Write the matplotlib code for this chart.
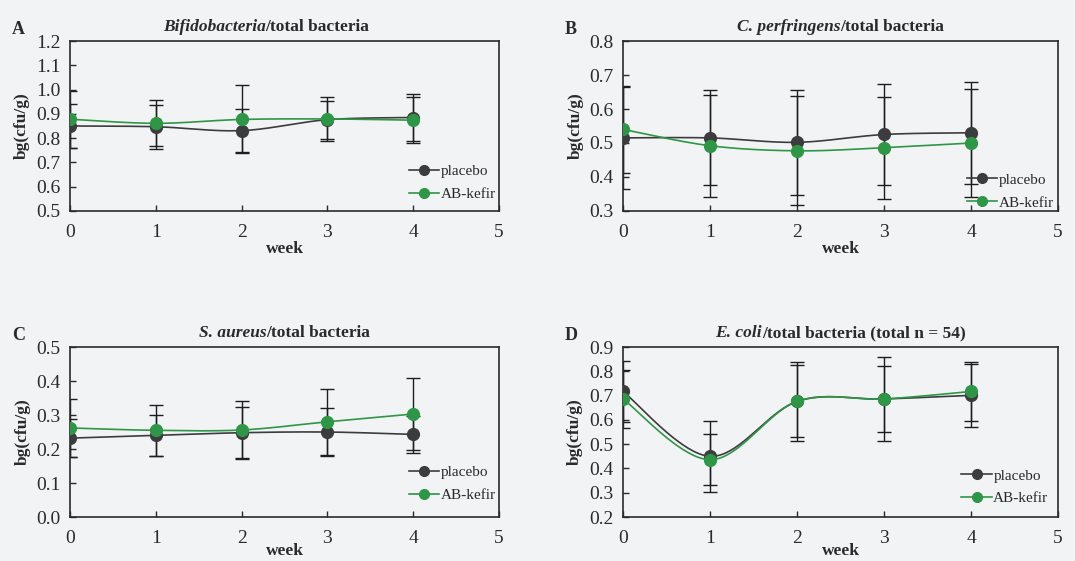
import numpy as np
import matplotlib
matplotlib.use('Agg')
import matplotlib.pyplot as plt
from matplotlib.offsetbox import TextArea, HPacker, AnchoredOffsetbox
from matplotlib.ticker import FormatStrFormatter

plt.rcParams['font.family'] = ['Liberation Serif', 'DejaVu Serif']

### DATA
weeks = [0, 1, 2, 3, 4]

# A - Bifidobacteria
bifi_placebo = [0.850, 0.847, 0.831, 0.876, 0.885]
bifi_kefir = [0.878, 0.861, 0.877, 0.879, 0.874]
bifi_placebo_sd = [0.090, 0.090, 0.090, 0.078, 0.096]
bifi_kefir_sd = [0.117, 0.095, 0.140, 0.090, 0.094]

# B - C. perfringens
perf_placebo = [0.515, 0.515, 0.502, 0.525, 0.530]
perf_kefir = [0.540, 0.492, 0.477, 0.486, 0.500]
perf_placebo_sd = [0.150, 0.140, 0.155, 0.150, 0.150]
perf_kefir_sd = [0.128, 0.150, 0.160, 0.150, 0.160]

# C - S. aureus
aur_placebo = [0.232, 0.240, 0.248, 0.250, 0.243]
aur_kefir = [0.262, 0.255, 0.256, 0.280, 0.303]
aur_placebo_sd = [0.055, 0.060, 0.075, 0.070, 0.055]
aur_kefir_sd = [0.085, 0.075, 0.085, 0.098, 0.106]

# D - E. coli
coli_placebo = [0.717, 0.450, 0.676, 0.686, 0.701]
coli_kefir = [0.686, 0.436, 0.676, 0.686, 0.717]
coli_placebo_sd = [0.124, 0.145, 0.162, 0.173, 0.130]
coli_kefir_sd = [0.120, 0.105, 0.148, 0.137, 0.120]

labels = ['placebo', 'AB-kefir']

### STYLE
BG = '#f2f3f5'
DARK = '#3c3c3e'
GREEN = '#2e9646'
TXT = '#2a2a2a'


### Excel-like smoothed line (Bezier through the points)
def smooth(x, y, n=40):
    pts = np.column_stack([x, y]).astype(float)
    p = np.vstack([pts[0], pts, pts[-1]])
    out = []
    for i in range(1, len(p) - 2):
        p0, p1, p2, p3 = p[i-1], p[i], p[i+1], p[i+2]
        c1 = p1 + (p2 - p0)/6.0
        c2 = p2 - (p3 - p1)/6.0
        t = np.linspace(0, 1, n)[:, None]
        seg = (1-t)**3*p1 + 3*(1-t)**2*t*c1 + 3*(1-t)*t**2*c2 + t**3*p2
        out.append(seg)
    out = np.vstack(out)
    return out[:, 0], out[:, 1]


def panel(ax, letter, title_it, title_rest, ylim, ystep, placebo, kefir,
          sd_p, sd_k, title_x=0.5, leg_anchor=(1.0, 0.03), xpad=0):
    ax.set_facecolor(BG)
    ### error bars first (behind)
    ax.errorbar(weeks, placebo, yerr=sd_p, fmt='none', ecolor='#1e1e1e',
                elinewidth=1.0, capsize=5, capthick=1.0, zorder=2)
    ax.errorbar(weeks, kefir, yerr=sd_k, fmt='none', ecolor='#1e1e1e',
                elinewidth=1.0, capsize=5, capthick=1.0, zorder=2)
    ### smoothed lines
    xs, ys = smooth(weeks, placebo)
    ax.plot(xs, ys, color=DARK, lw=1.2, zorder=3)
    xs, ys = smooth(weeks, kefir)
    ax.plot(xs, ys, color=GREEN, lw=1.2, zorder=3)
    ### markers
    ax.plot(weeks, placebo, 'o', color=DARK, ms=8.5, zorder=4)
    ax.plot(weeks, kefir, 'o', color=GREEN, ms=8.5, zorder=5)
    # legend handles
    h1, = ax.plot([], [], '-o', color=DARK, lw=1.2, ms=7)
    h2, = ax.plot([], [], '-o', color=GREEN, lw=1.2, ms=7)
    leg = ax.legend([h1, h2], labels, loc='lower right', bbox_to_anchor=leg_anchor,
                    frameon=False, fontsize=11, handlelength=2.0, handletextpad=0.1,
                    borderaxespad=0, borderpad=0.2, labelspacing=0.6)
    for t in leg.get_texts():
        t.set_color(TXT)

    ax.set_xlim(0, 5)
    ax.set_ylim(*ylim)
    ax.set_xticks(range(6))
    ax.set_yticks(np.arange(ylim[0], ylim[1] + ystep/2, ystep))
    ax.yaxis.set_major_formatter(FormatStrFormatter('%.1f'))
    ax.tick_params(direction='in', length=4, width=1.0, color='#2a2a2a',
                   labelsize=14, labelcolor=TXT)
    ax.tick_params(axis='x', pad=9.5)
    ax.tick_params(axis='y', pad=7)
    for s in ax.spines.values():
        s.set_color('#2a2a2a')
        s.set_linewidth(1.2)

    ax.set_xlabel('week', fontsize=12.5, fontweight='bold', color=TXT, labelpad=xpad)
    ax.set_ylabel('bg(cfu/g)', fontsize=12.5, fontweight='bold', color=TXT, labelpad=4)

    ### title: italic name + plain rest
    box = HPacker(children=[
        TextArea(title_it, textprops=dict(style='italic', weight='bold', size=12.5, color=TXT)),
        TextArea(title_rest, textprops=dict(weight='bold', size=12.5, color=TXT))],
        align='baseline', pad=0, sep=0)
    ab = AnchoredOffsetbox(loc='lower center', child=box, pad=0, borderpad=0,
                           frameon=False, bbox_to_anchor=(title_x, 1.035),
                           bbox_transform=ax.transAxes)
    ax.add_artist(ab)

    ax.text(-0.12, 1.07, letter, transform=ax.transAxes, fontsize=13,
            fontweight='bold', color=TXT, ha='center', va='center')


### MAIN
fig = plt.figure(figsize=(10.75, 5.61), dpi=100, facecolor=BG)
axA = fig.add_axes([0.0651, 0.6239, 0.3991, 0.303])
axB = fig.add_axes([0.5795, 0.6239, 0.4047, 0.303])
axC = fig.add_axes([0.0651, 0.0784, 0.3991, 0.303])
axD = fig.add_axes([0.5795, 0.0784, 0.4047, 0.303])

panel(axA, 'A', 'Bifidobacteria', '/total bacteria', (0.5, 1.2), 0.1,
      bifi_placebo, bifi_kefir, bifi_placebo_sd, bifi_kefir_sd,
      title_x=0.457, leg_anchor=(1.0, 0.04))
panel(axB, 'B', 'C. perfringens', '/total bacteria', (0.3, 0.8), 0.1,
      perf_placebo, perf_kefir, perf_placebo_sd, perf_kefir_sd,
      leg_anchor=(0.998, -0.01))
panel(axC, 'C', 'S. aureus', '/total bacteria', (0.0, 0.5), 0.1,
      aur_placebo, aur_kefir, aur_placebo_sd, aur_kefir_sd,
      leg_anchor=(1.0, 0.07), xpad=-3)
panel(axD, 'D', 'E. coli', '/total bacteria (total n = 54)', (0.2, 0.9), 0.1,
      coli_placebo, coli_kefir, coli_placebo_sd, coli_kefir_sd,
      leg_anchor=(0.985, 0.05), xpad=-3)

fig.savefig('out.png', dpi=100, facecolor=BG)
